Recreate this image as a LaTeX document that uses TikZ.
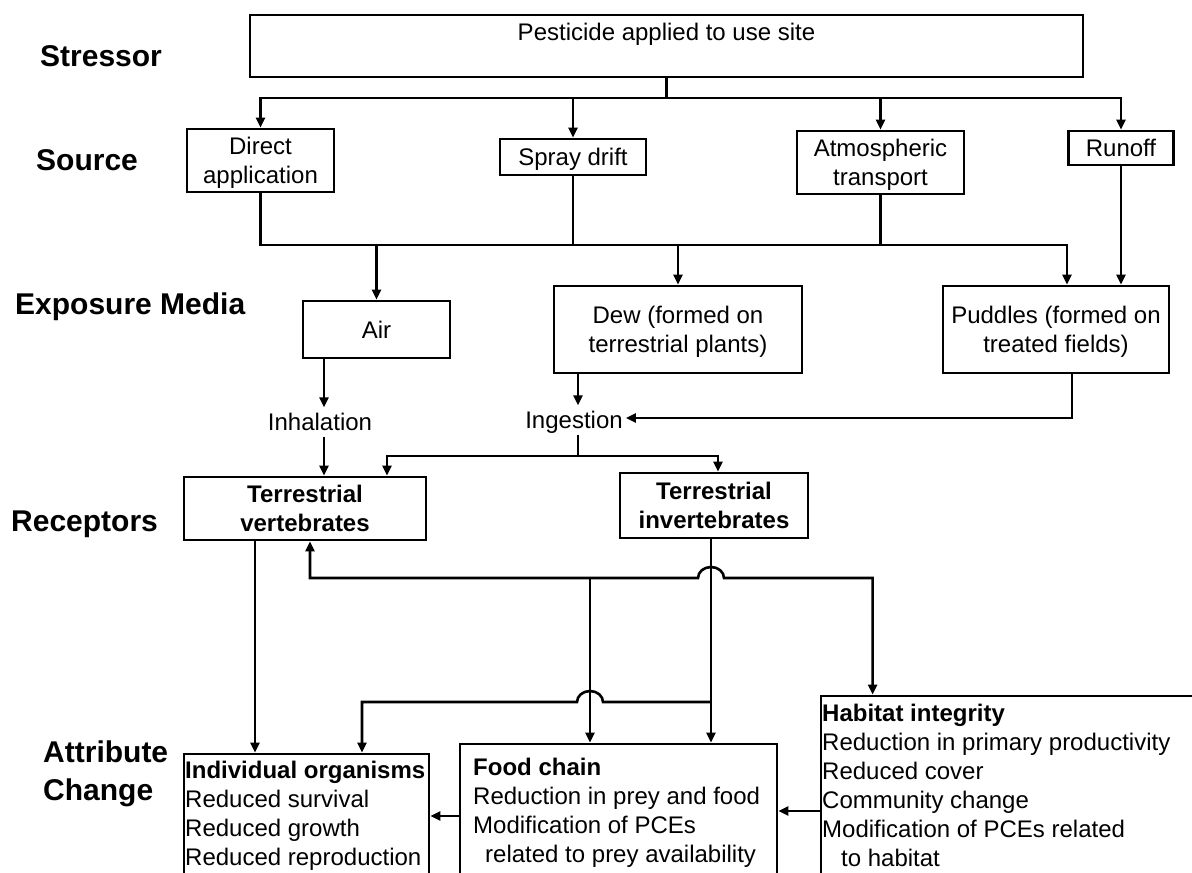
\documentclass[tikz,border=0pt]{standalone}
\usepackage{fontspec}
\setmainfont{Liberation Sans}
\usetikzlibrary{arrows.meta,calc}
% line struts: regular text (24pt, 29pt leading) and stage labels (30pt, 38pt leading)
\newcommand\ls{\vrule height 23.1pt depth 5.9pt width 0pt}
\newcommand\lsb{\vrule height 29.75pt depth 8.25pt width 0pt}
\begin{document}
\begin{tikzpicture}[x=1pt,y=1pt,
  box/.style={draw, line width=2.8pt, inner sep=0pt, align=center,
    font=\fontsize{24pt}{29pt}\selectfont},
  txt/.style={inner sep=0pt, align=left, font=\fontsize{24pt}{29pt}\selectfont},
  stage/.style={anchor=west, inner sep=0pt, align=left,
    font=\fontsize{30pt}{38pt}\selectfont\bfseries},
  ln/.style={line width=2.6pt},
  arr/.style={line width=2.6pt, -{Triangle[length=10pt,width=9pt]}},
  biarr/.style={line width=2.6pt, {Triangle[length=10pt,width=9pt]}-{Triangle[length=10pt,width=9pt]}}]

\useasboundingbox (0,0) rectangle (1192,-873);
\clip (0,0) rectangle (1192,-873);
\fill[white] (0,0) rectangle (1192,-873);

% stage labels
\node[stage] (stressorlbl) at (40,-56) {\lsb Stressor};
\node[stage] (sourcelbl) at (36,-160) {\lsb Source};
\node[stage] (medialbl) at (15,-304) {\lsb Exposure Media};
\node[stage] (receptorlbl) at (11,-521) {\lsb Receptors};
\node[stage] (attrlbl) at (43,-770.5) {\lsb Attribute\\\lsb Change};

% stressor
\node[box, minimum width=833pt, minimum height=62pt] (stressor) at (666.5,-46) {};
\node[txt] (stressortxt) at (666.5,-32) {\ls Pesticide applied to use site};

% sources
\node[box, minimum width=147pt, minimum height=63pt] (direct) at (260.5,-160.5) {\ls Direct\\\ls application};
\node[box, minimum width=146pt, minimum height=36pt] (spray) at (573,-157) {\ls Spray drift};
\node[box, minimum width=167pt, minimum height=63pt] (atmos) at (880.5,-162.5) {\ls Atmospheric\\\ls transport};
\node[box, minimum width=105pt, minimum height=34pt] (runoff) at (1121,-148) {\ls Runoff};

% exposure media
\node[box, minimum width=147pt, minimum height=57pt] (air) at (376.5,-329.5) {\ls Air};
\node[box, minimum width=248pt, minimum height=87pt] (dew) at (678,-329.5) {\ls Dew (formed on\\\ls terrestrial plants)};
\node[box, minimum width=226pt, minimum height=87pt] (puddles) at (1056,-329.5) {\ls Puddles (formed on\\\ls treated fields)};

% exposure routes
\node[txt] (inhal) at (320,-422) {\ls Inhalation};
\node[txt, inner xsep=3pt] (ingest) at (574,-420) {\ls Ingestion};

% receptors
\node[box, minimum width=242pt, minimum height=63pt, font=\fontsize{24pt}{29pt}\selectfont\bfseries] (vert) at (305,-508.5) {\ls Terrestrial\\\ls vertebrates};
\node[box, minimum width=188pt, minimum height=65pt, font=\fontsize{24pt}{29pt}\selectfont\bfseries] (invert) at (714,-505.5) {\ls Terrestrial\\\ls invertebrates};

% attribute change
\node[box, minimum width=245pt, minimum height=124pt] (indiv) at (306.5,-816) {};
\node[txt, anchor=north west] (indivtxt) at (185,-755.5)
  {\ls\textbf{Individual organisms}\\\ls Reduced survival\\\ls Reduced growth\\\ls Reduced reproduction};
\node[box, minimum width=317pt, minimum height=134pt] (food) at (618.5,-811) {};
\node[txt, anchor=north west] (foodtxt) at (473,-752.5)
  {\ls\textbf{Food chain}\\\ls Reduction in prey and food\\\ls Modification of PCEs\\\ls\hspace*{12pt}related to prey availability};
\node[box, minimum width=379pt, minimum height=182pt] (habitat) at (1010.5,-787) {};
\node[txt, anchor=north west] (habitattxt) at (822,-698.5)
  {\ls\textbf{Habitat integrity}\\\ls Reduction in primary productivity\\\ls Reduced cover\\\ls Community change\\\ls Modification of PCEs related\\\ls\hspace*{19pt}to habitat};

% stressor to sources
\coordinate (j1) at (666.5,-98);
\draw[ln] (stressor.south) -- (j1);
\draw[arr] (j1) -| (direct.north);
\draw[arr] (j1) -| (spray.north);
\draw[arr] (j1) -| (atmos.north);
\draw[arr] (j1) -| (runoff.north);

% sources to exposure media
\coordinate (j2) at (573,-245);
\draw[ln] (direct.south) |- (j2);
\draw[ln] (spray.south) -- (j2);
\draw[ln] (atmos.south) -- (atmos.south |- j2);
\draw[ln] (j2) -- (atmos.south |- j2);
\draw[arr] (air.north |- j2) -- (air.north);
\draw[arr] (dew.north |- j2) -- (dew.north);
\draw[arr] (atmos.south |- j2) -| ([xshift=11pt]puddles.north);
\draw[arr] (runoff.south) -- (runoff.south |- puddles.north);

% exposure media to routes
\draw[arr] ([xshift=4pt]inhal.north |- air.south) -- ([xshift=4pt]inhal.north);
\draw[arr] ([xshift=4pt]ingest.north |- dew.south) -- ([xshift=4pt]ingest.north);
\draw[arr] ([xshift=16pt]puddles.south) |- ([yshift=2pt]ingest.east);

% routes to receptors
\draw[arr] ([xshift=4pt]inhal.south) -- ([xshift=4pt]inhal.south |- vert.north);
\coordinate (j3) at (578,-456);
\draw[ln] ([xshift=4pt]ingest.south) -- (j3);
\draw[arr] (j3) -| ([xshift=82pt]vert.north);
\draw[arr] (j3) -| ([xshift=4pt]invert.north);

% receptors to attribute change
\draw[arr] ([xshift=-50pt]vert.south) -- ([xshift=-50pt]vert.south |- indiv.north);
\draw[biarr] ([xshift=5pt]vert.south) |- (698,-578)
  arc[start angle=180, end angle=0, x radius=13, y radius=11]
  -| ([xshift=53pt]habitat.north west);
\coordinate (jfood) at (590,-578);
\draw[arr] (jfood) -- (jfood |- food.north);
\draw[arr] ([xshift=-3pt]invert.south) -- ([xshift=-3pt]invert.south |- food.north);
\coordinate (jinv) at (711,-702);
\draw[arr] (jinv) -- (603,-702)
  arc[start angle=0, end angle=180, x radius=13, y radius=11]
  -| ([xshift=55.5pt]indiv.north);

% between attribute boxes
\draw[arr] (habitat.west |- food.east) -- (food.east);
\draw[arr] (food.west |- indiv.east) -- (indiv.east);
\end{tikzpicture}
\end{document}
